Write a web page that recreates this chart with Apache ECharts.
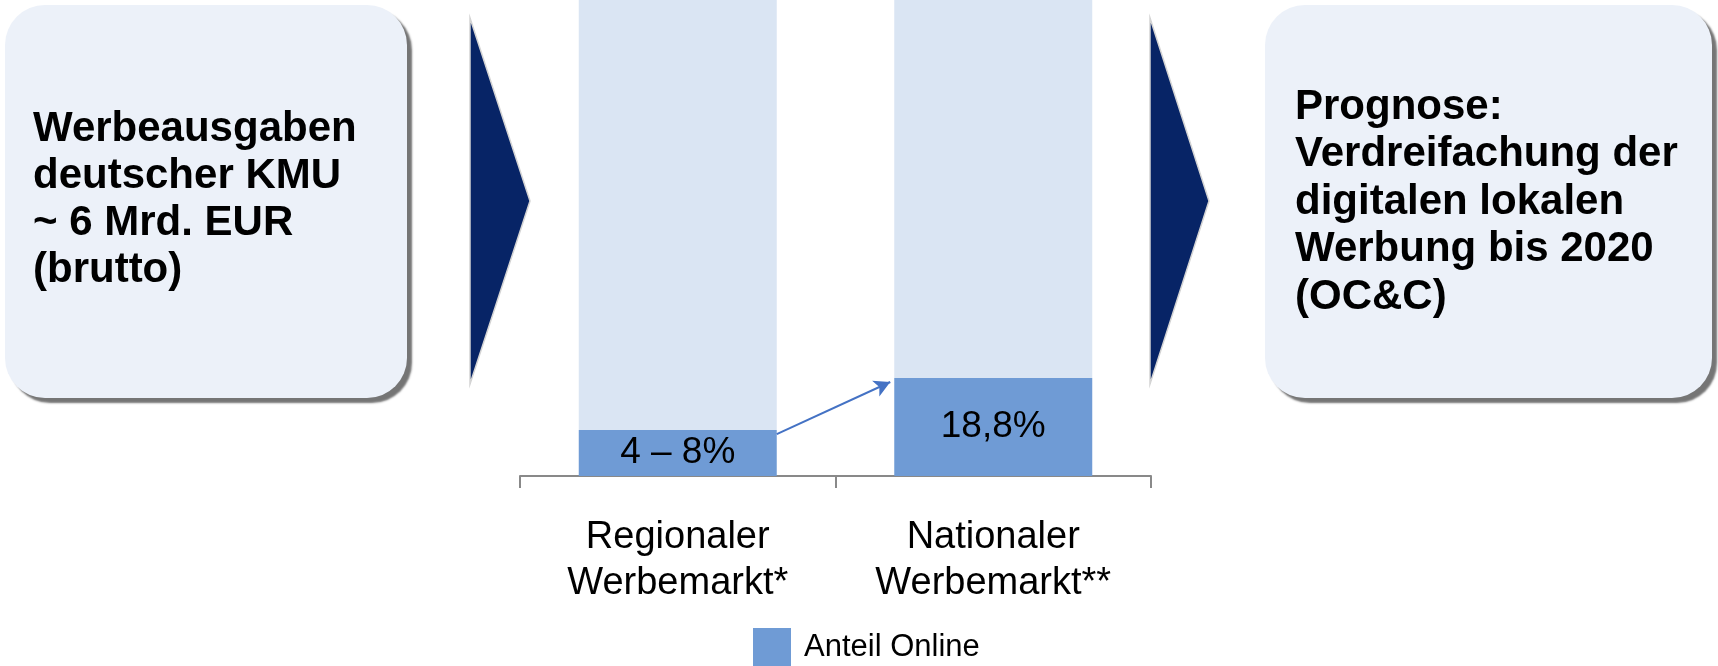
<!DOCTYPE html>
<html><head><meta charset="utf-8">
<script src="https://cdn.jsdelivr.net/npm/echarts@6/dist/echarts.min.js"></script>
<style>html,body{margin:0;padding:0;background:#fff}#c{width:1718px;height:666px}</style>
</head><body><div id="c"></div>
<script>
// ---- data ----
const categories = ['Regionaler\nWerbemarkt*', 'Nationaler\nWerbemarkt**'];
const onlineShare = [8.8, 18.8];
const otherShare = [91.2, 81.2];
const valueLabels = ['4 – 8%', '18,8%'];
const seriesNames = ['Anteil Online', 'Rest'];
const leftBoxText = ['Werbeausgaben', 'deutscher KMU', '~ 6 Mrd. EUR', '(brutto)'];
const rightBoxText = ['Prognose:', 'Verdreifachung der', 'digitalen lokalen', 'Werbung bis 2020', '(OC&C)'];

const FONT = '"Liberation Sans", Arial, sans-serif';
const chart = echarts.init(document.getElementById('c'), null, {renderer: 'canvas'});

function box(x, y, w, h, lines, tx, ty, lh) {
  return [
    {type: 'rect', z: 1, shape: {x: x, y: y, width: w, height: h, r: 40},
     style: {fill: '#ecf1f9', shadowColor: 'rgba(110,110,110,0.95)', shadowOffsetX: 5, shadowOffsetY: 5, shadowBlur: 2}},
    {type: 'text', z: 2, style: {x: tx, y: ty, text: lines.join('\n'), fill: '#000',
      font: 'bold 42px ' + FONT, lineHeight: lh, verticalAlign: 'middle', align: 'left'}}
  ];
}
function chevron(x, top, tipX, bottom) {
  const mid = (top + bottom) / 2;
  return {type: 'polygon', z: 1, shape: {points: [[x, top], [tipX, mid], [x, bottom]]},
    style: {fill: '#072466', stroke: '#d4d4d4', lineWidth: 1.5}};
}

const option = {
  animation: false,
  backgroundColor: '#fff',
  grid: {left: 520, right: 567, top: 0, bottom: 190},
  legend: {
    data: [seriesNames[0]], left: 753, top: 628, padding: 0, icon: 'rect', itemWidth: 38, itemHeight: 38,
    selectedMode: false,
    textStyle: {fontSize: 31, color: '#000', fontFamily: FONT, padding: [0, 0, 0, 8]}
  },
  xAxis: {
    type: 'category', data: categories,
    axisLine: {lineStyle: {color: '#898989', width: 2}},
    axisTick: {show: true, length: 12, lineStyle: {color: '#898989', width: 2}},
    axisLabel: {interval: 0, fontSize: 38, lineHeight: 46, color: '#000', fontFamily: FONT, margin: 39}
  },
  yAxis: {type: 'value', min: 0, max: 91.3, show: false},
  series: [
    {name: seriesNames[0], type: 'bar', stack: 's', barWidth: 198, data: onlineShare, clip: false,
     itemStyle: {color: '#6f9bd5'},
     label: {show: true, position: 'inside', fontSize: 37, color: '#000', fontFamily: FONT,
       formatter: p => valueLabels[p.dataIndex]}},
    {name: seriesNames[1], type: 'bar', stack: 's', barWidth: 198, data: otherShare, clip: false,
     itemStyle: {color: '#dae5f3'}}
  ],
  graphic: [].concat(
    box(5, 5, 402, 393, leftBoxText, 33, 200, 47),
    box(1265, 5, 447, 393, rightBoxText, 1295, 202, 47.5),
    [chevron(470, 18, 530, 384), chevron(1150, 18, 1209, 384)]
  )
};
chart.setOption(option);

// connector arrow from bar 1 to bar 2, positioned via the chart's own scales
const halfBar = 198 / 2;
const p0 = chart.convertToPixel({seriesIndex: 0}, [0, onlineShare[0]]);
const p1 = chart.convertToPixel({seriesIndex: 0}, [1, onlineShare[1]]);
chart.setOption({
  series: [{
    markLine: {
      silent: true, symbol: ['none', 'arrow'], symbolSize: [13, 16],
      label: {show: false},
      lineStyle: {color: '#4472c4', width: 2, type: 'solid'},
      data: [[{x: p0[0] + halfBar, y: p0[1] + 4}, {x: p1[0] - halfBar - 4, y: p1[1] + 4}]]
    }
  }]
});
</script></body></html>
